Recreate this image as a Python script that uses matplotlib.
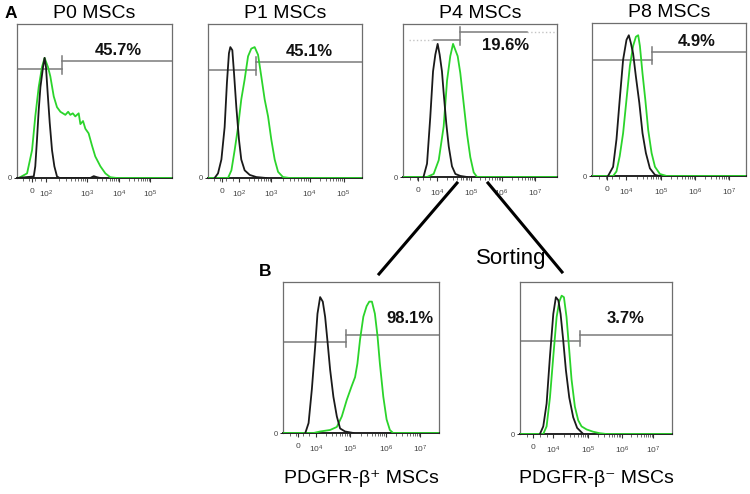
import numpy as np
import matplotlib
matplotlib.use("Agg")
import matplotlib.pyplot as plt
from matplotlib.lines import Line2D

plt.rcParams['font.family'] = ['Liberation Sans', 'DejaVu Sans']
plt.rcParams['mathtext.fontset'] = 'custom'
plt.rcParams['mathtext.rm'] = 'Liberation Sans'
plt.rcParams['mathtext.it'] = 'Liberation Sans'

# --- histogram traces, x = fraction of the axis, y = fraction of the box height ---
P0_BLACK_X = [0.0, 0.108, 0.118, 0.129, 0.140, 0.151, 0.168, 0.178, 0.187, 0.198, 0.211, 0.226, 0.241, 0.258, 0.275, 0.473, 0.495, 0.516, 0.538]
P0_BLACK_Y = [0.0, 0.01, 0.076, 0.25, 0.44, 0.59, 0.72, 0.78, 0.72, 0.55, 0.36, 0.18, 0.076, 0.01, 0.0, 0.0, 0.012, 0.005, 0.0]
P0_GREEN_X = [0.0, 0.011, 0.065, 0.097, 0.118, 0.140, 0.161, 0.178, 0.200, 0.215, 0.237, 0.258, 0.280, 0.312, 0.330, 0.344, 0.360, 0.376, 0.398, 0.409, 0.426, 0.441, 0.462, 0.484, 0.505, 0.538, 0.570, 0.602, 0.645, 1.0]
P0_GREEN_Y = [0.0, 0.0, 0.03, 0.18, 0.40, 0.59, 0.72, 0.78, 0.72, 0.66, 0.53, 0.46, 0.43, 0.41, 0.43, 0.41, 0.42, 0.40, 0.42, 0.35, 0.37, 0.32, 0.29, 0.21, 0.14, 0.076, 0.03, 0.005, 0.0, 0.0]
P0_GATE = [0.29, 0.706, 0.76]
P0_LABEL = "45.7%"

P1_BLACK_X = [0.043, 0.065, 0.087, 0.108, 0.123, 0.136, 0.145, 0.158, 0.169, 0.184, 0.201, 0.216, 0.238, 0.271, 0.314, 0.379]
P1_BLACK_Y = [0.0, 0.03, 0.12, 0.33, 0.62, 0.81, 0.85, 0.83, 0.68, 0.46, 0.25, 0.12, 0.05, 0.02, 0.006, 0.0]
P1_GREEN_X = [0.0, 0.130, 0.152, 0.173, 0.195, 0.216, 0.238, 0.260, 0.281, 0.303, 0.325, 0.346, 0.368, 0.390, 0.411, 0.433, 0.455, 0.487, 0.530, 1.0]
P1_GREEN_Y = [0.0, 0.0, 0.05, 0.18, 0.33, 0.51, 0.64, 0.79, 0.84, 0.85, 0.80, 0.66, 0.51, 0.40, 0.25, 0.12, 0.04, 0.006, 0.0, 0.0]
P1_GATE = [0.314, 0.70, 0.756]
P1_LABEL = "45.1%"

P4_BLACK_X = [0.134, 0.156, 0.177, 0.195, 0.210, 0.225, 0.238, 0.253, 0.264, 0.281, 0.297, 0.318, 0.340, 0.372, 0.416]
P4_BLACK_Y = [0.004, 0.087, 0.39, 0.69, 0.80, 0.87, 0.80, 0.69, 0.55, 0.35, 0.20, 0.07, 0.02, 0.007, 0.0]
P4_GREEN_X = [0.0, 0.156, 0.199, 0.232, 0.264, 0.286, 0.307, 0.325, 0.340, 0.355, 0.372, 0.394, 0.416, 0.437, 0.459, 0.481, 1.0]
P4_GREEN_Y = [0.0, 0.0, 0.02, 0.11, 0.33, 0.63, 0.79, 0.87, 0.83, 0.79, 0.68, 0.48, 0.28, 0.13, 0.03, 0.0, 0.0]
P4_GATE = [0.372, 0.895, 0.95]
P4_LABEL = "19.6%"

P8_BLACK_X = [0.104, 0.137, 0.159, 0.180, 0.202, 0.224, 0.239, 0.252, 0.267, 0.285, 0.307, 0.328, 0.350, 0.376, 0.409, 0.441]
P8_BLACK_Y = [0.0, 0.06, 0.24, 0.50, 0.76, 0.89, 0.92, 0.87, 0.80, 0.65, 0.48, 0.28, 0.15, 0.05, 0.007, 0.0]
P8_GREEN_X = [0.0, 0.137, 0.159, 0.180, 0.202, 0.224, 0.246, 0.267, 0.285, 0.300, 0.311, 0.328, 0.346, 0.365, 0.387, 0.409, 0.441, 0.485, 1.0]
P8_GREEN_Y = [0.0, 0.0, 0.03, 0.13, 0.28, 0.50, 0.72, 0.85, 0.91, 0.92, 0.85, 0.67, 0.50, 0.30, 0.15, 0.06, 0.013, 0.0, 0.0]
P8_GATE = [0.387, 0.76, 0.81]
P8_LABEL = "4.9%"

BPOS_BLACK_X = [0.143, 0.164, 0.185, 0.206, 0.221, 0.238, 0.255, 0.270, 0.285, 0.302, 0.323, 0.345, 0.366, 0.398, 0.451]
BPOS_BLACK_Y = [0.0, 0.066, 0.29, 0.57, 0.79, 0.90, 0.87, 0.77, 0.61, 0.42, 0.24, 0.11, 0.03, 0.01, 0.0]
BPOS_GREEN_X = [0.0, 0.196, 0.238, 0.302, 0.345, 0.377, 0.409, 0.440, 0.462, 0.477, 0.494, 0.515, 0.536, 0.553, 0.570, 0.589, 0.606, 0.621, 0.643, 0.664, 0.685, 0.706, 1.0]
BPOS_GREEN_Y = [0.0, 0.0, 0.01, 0.02, 0.04, 0.11, 0.22, 0.31, 0.37, 0.46, 0.62, 0.77, 0.84, 0.87, 0.87, 0.79, 0.64, 0.46, 0.24, 0.09, 0.02, 0.0, 0.0]
BPOS_GATE = [0.402, 0.60, 0.65]
BPOS_LABEL = "98.1%"

BNEG_BLACK_X = [0.131, 0.153, 0.175, 0.197, 0.219, 0.236, 0.252, 0.267, 0.284, 0.302, 0.324, 0.350, 0.376, 0.416]
BNEG_BLACK_Y = [0.0, 0.05, 0.20, 0.51, 0.79, 0.90, 0.88, 0.79, 0.62, 0.42, 0.24, 0.11, 0.04, 0.0]
BNEG_GREEN_X = [0.0, 0.153, 0.175, 0.197, 0.219, 0.241, 0.258, 0.274, 0.289, 0.306, 0.324, 0.339, 0.361, 0.383, 0.405, 0.438, 0.481, 0.525, 0.569, 1.0]
BNEG_GREEN_Y = [0.0, 0.0, 0.05, 0.24, 0.51, 0.77, 0.87, 0.91, 0.90, 0.77, 0.55, 0.36, 0.18, 0.09, 0.05, 0.03, 0.015, 0.005, 0.0, 0.0]
BNEG_GATE = [0.394, 0.61, 0.65]
BNEG_LABEL = "3.7%"

TICKS_LOW = ['0', '$10^2$', '$10^3$', '$10^4$', '$10^5$']
TICKS_HIGH = ['0', '$10^4$', '$10^5$', '$10^6$', '$10^7$']

# --- layout (pixel box: left, top, right, bottom), label spots ---
W, H = 750, 494
GREEN = '#2bd42b'
GATE_GREY = '#7a7a7a'

panels = [
    dict(box=(17, 24, 172, 178), bx=P0_BLACK_X, by=P0_BLACK_Y, gx=P0_GREEN_X, gy=P0_GREEN_Y,
         gate=P0_GATE, label=P0_LABEL, lpos=(0.656, 0.83), title="P0 MSCs",
         tpos=[0.097, 0.19, 0.45, 0.66, 0.86], tlab=TICKS_LOW),
    dict(box=(208, 24, 362, 178), bx=P1_BLACK_X, by=P1_BLACK_Y, gx=P1_GREEN_X, gy=P1_GREEN_Y,
         gate=P1_GATE, label=P1_LABEL, lpos=(0.66, 0.82), title="P1 MSCs",
         tpos=[0.09, 0.2, 0.41, 0.66, 0.88], tlab=TICKS_LOW),
    dict(box=(403, 24, 557, 177), bx=P4_BLACK_X, by=P4_BLACK_Y, gx=P4_GREEN_X, gy=P4_GREEN_Y,
         gate=P4_GATE, label=P4_LABEL, lpos=(0.665, 0.86), title="P4 MSCs",
         tpos=[0.10, 0.22, 0.44, 0.64, 0.86], tlab=TICKS_HIGH, fade=(0.037, 0.20, 0.805)),
    dict(box=(592, 23, 746, 176), bx=P8_BLACK_X, by=P8_BLACK_Y, gx=P8_GREEN_X, gy=P8_GREEN_Y,
         gate=P8_GATE, label=P8_LABEL, lpos=(0.68, 0.88), title="P8 MSCs",
         tpos=[0.10, 0.22, 0.45, 0.67, 0.89], tlab=TICKS_HIGH),
    dict(box=(283, 282, 439, 433), bx=BPOS_BLACK_X, by=BPOS_BLACK_Y, gx=BPOS_GREEN_X, gy=BPOS_GREEN_Y,
         gate=BPOS_GATE, label=BPOS_LABEL, lpos=(0.813, 0.76), bottom="PDGFR-β\u207a MSCs",
         tpos=[0.094, 0.21, 0.43, 0.66, 0.88], tlab=TICKS_HIGH),
    dict(box=(520, 282, 672, 434), bx=BNEG_BLACK_X, by=BNEG_BLACK_Y, gx=BNEG_GREEN_X, gy=BNEG_GREEN_Y,
         gate=BNEG_GATE, label=BNEG_LABEL, lpos=(0.696, 0.76), bottom="PDGFR-β\u207b MSCs",
         tpos=[0.088, 0.22, 0.45, 0.67, 0.875], tlab=TICKS_HIGH),
]

fig = plt.figure(figsize=(W / 100, H / 100), dpi=100)


def px(x, y):
    return x / W, 1 - y / H


for p in panels:
    l, t, r, b = p['box']
    ax = fig.add_axes([l / W, 1 - b / H, (r - l) / W, (b - t) / H])
    ax.set_xlim(0, 1)
    ax.set_ylim(0, 1)

    ax.plot(p['gx'], p['gy'], color=GREEN, lw=1.3, zorder=3)
    ax.plot(p['bx'], p['by'], color='#1a1a1a', lw=1.3, zorder=4)

    # gate marker
    gx, ylo, yhi = p['gate']
    left_start, right_end = 0.0, 1.0
    if 'fade' in p:
        f0, left_start, right_end = p['fade']
        ax.plot([f0, left_start], [ylo, ylo], color='#c4c4c4', lw=1.0, ls=':')
        ax.plot([right_end, 1.0], [yhi, yhi], color='#c4c4c4', lw=1.0, ls=':')
    ax.plot([left_start, gx], [ylo, ylo], color=GATE_GREY, lw=1.1)
    ax.plot([gx, right_end], [yhi, yhi], color=GATE_GREY, lw=1.1)
    ax.plot([gx, gx], [ylo - 0.03, yhi + 0.03], color=GATE_GREY, lw=1.1)

    ax.text(p['lpos'][0], p['lpos'][1], p['label'], ha='center', va='center',
            fontsize=12, fontweight='bold', color='#111')

    for side in ('top', 'left', 'right'):
        ax.spines[side].set_color('#6e6e6e')
        ax.spines[side].set_linewidth(0.9)
    ax.spines['bottom'].set_color('#222')
    ax.spines['bottom'].set_linewidth(1.4)

    tp = p['tpos']
    ax.set_xticks(tp)
    ax.set_xticklabels(p['tlab'])
    minors = []
    for a, c in zip(tp[1:-1], tp[2:]):
        minors += list(a + (c - a) * np.log10(np.arange(2, 10)))
    minors += list(np.linspace(0.0, tp[1], 6)[1:-1])
    ax.set_xticks(minors, minor=True)
    ax.tick_params(axis='x', which='major', length=3, width=0.8, color='#333',
                   labelsize=6, labelcolor='#444', pad=4.5)
    ax.tick_params(axis='x', which='minor', length=2, width=0.6, color='#555')
    ax.set_yticks([0])
    ax.set_yticklabels(['0'])
    ax.tick_params(axis='y', length=2, width=0.6, labelsize=5.5, labelcolor='#444', pad=2)

    if 'title' in p:
        ax.set_title(p['title'], fontsize=14, pad=4)
    if 'bottom' in p:
        x0, y0 = px((l + r) / 2, 478)
        fig.text(x0, y0, p['bottom'], ha='center', va='center', fontsize=14)

# panel letters, sorting annotation
fig.text(*px(5, 13), "A", fontsize=12.5, fontweight='bold', ha='left', va='center')
fig.text(*px(265, 272), "B", fontsize=12.5, fontweight='bold', ha='center', va='center')
fig.text(*px(511, 258), "Sorting", fontsize=16, ha='center', va='center')

for (x1, y1), (x2, y2) in [((457, 183), (379, 274)), ((488, 183), (562, 272))]:
    a, b = px(x1, y1)
    c, d = px(x2, y2)
    fig.add_artist(Line2D([a, c], [b, d], transform=fig.transFigure, color='black', lw=2.2))

fig.savefig("out.png", dpi=100)
